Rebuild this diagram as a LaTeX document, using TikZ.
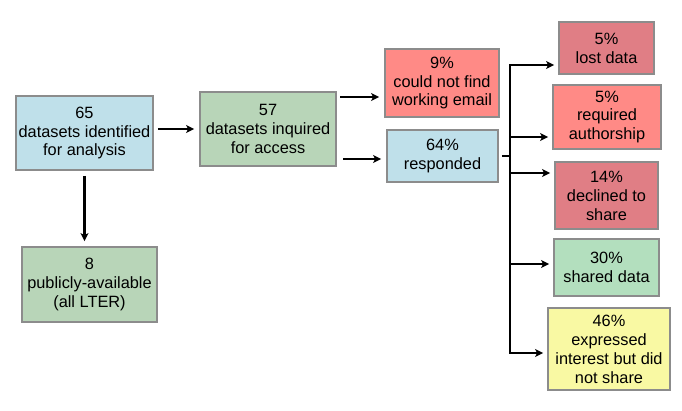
\documentclass[tikz,border=0pt]{standalone}
\usepackage{fontspec}
\setmainfont{Liberation Sans}
\usetikzlibrary{arrows.meta,calc}
\definecolor{cblue}{HTML}{BFE0EA}
\definecolor{csage}{HTML}{B8D5B8}
\definecolor{csalmon}{HTML}{FF8A86}
\definecolor{cdusk}{HTML}{E07E85}
\definecolor{cmint}{HTML}{B3DFBE}
\definecolor{cyel}{HTML}{F9F9A3}
\definecolor{cborder}{HTML}{8C8C8C}
\tikzset{
  box/.style={draw=cborder, line width=1.8bp, align=center, inner sep=0pt,
    font=\fontsize{16.4}{19}\selectfont},
  arr/.style={line width=2.5bp, -{Stealth[length=8bp,width=8bp,inset=2bp]}},
  ln/.style={line width=2.5bp}
}
\begin{document}
\begin{tikzpicture}[x=1bp,y=-1bp]
\useasboundingbox (0,0) rectangle (682,410);
\node[box, fill=cblue, minimum width=137bp, minimum height=74bp] (A) at (84.5,133) {65\\datasets identified\\for analysis};
\node[box, fill=csage, minimum width=136bp, minimum height=74bp] (B) at (268,129) {57\\datasets inquired\\for access};
\node[box, fill=csage, minimum width=135bp, minimum height=75bp] (C) at (89.5,284.5) {8\\publicly-available\\(all LTER)};
\node[box, fill=csalmon, minimum width=114bp, minimum height=68bp] (D) at (442,83) {9\%\\could not find\\working email};
\node[box, fill=cblue, minimum width=111bp, minimum height=52bp] (E) at (442.5,156) {64\%\\responded};
\node[box, fill=cdusk, minimum width=95bp, minimum height=52bp] (F) at (606.5,48) {5\%\\lost data};
\node[box, fill=csalmon, minimum width=108bp, minimum height=64bp] (G) at (607,117) {5\%\\required\\authorship};
\node[box, fill=cdusk, minimum width=103bp, minimum height=67bp] (H) at (606.5,195.5) {14\%\\declined to\\share};
\node[box, fill=cmint, minimum width=105bp, minimum height=57bp] (I) at (606.5,267.5) {30\%\\shared data};
\node[box, fill=cyel, minimum width=122bp, minimum height=82bp] (J) at (609,349) {46\%\\expressed\\interest but did\\not share};

% left arrows
\draw[arr] ([xshift=4bp]A.east |- B.west) -- ([xshift=-5bp]B.west);
\draw[arr] ([yshift=-5bp]A.south) -- ([yshift=5bp]A.south |- C.north);

% B to D and E
\coordinate (b1) at (340,97);
\coordinate (b2) at (343,159);
\draw[arr] (b1) -- ([xshift=-5bp]b1 -| D.west);
\draw[arr] (b2) -- ([xshift=-5bp]b2 -| E.west);

% trunk
\coordinate (ttop) at (510,65);
\coordinate (tbot) at (510,353);
\coordinate (tG) at (510,137);
\coordinate (tH) at (510,173);
\coordinate (tI) at (510,264);
\draw[ln] ([xshift=3bp]E.east |- 510,156) -- (510,156);
\draw[line width=2.5bp, line cap=rect] (ttop) -- (tbot);
\draw[arr] (ttop) -- ([xshift=-4bp]ttop -| F.west);
\draw[arr] (tG) -- ([xshift=-4bp]tG -| G.west);
\draw[arr] (tH) -- ([xshift=-4bp]tH -| H.west);
\draw[arr] (tI) -- ([xshift=-4bp]tI -| I.west);
\draw[arr] (tbot) -- ([xshift=-4bp]tbot -| J.west);
\end{tikzpicture}
\end{document}
